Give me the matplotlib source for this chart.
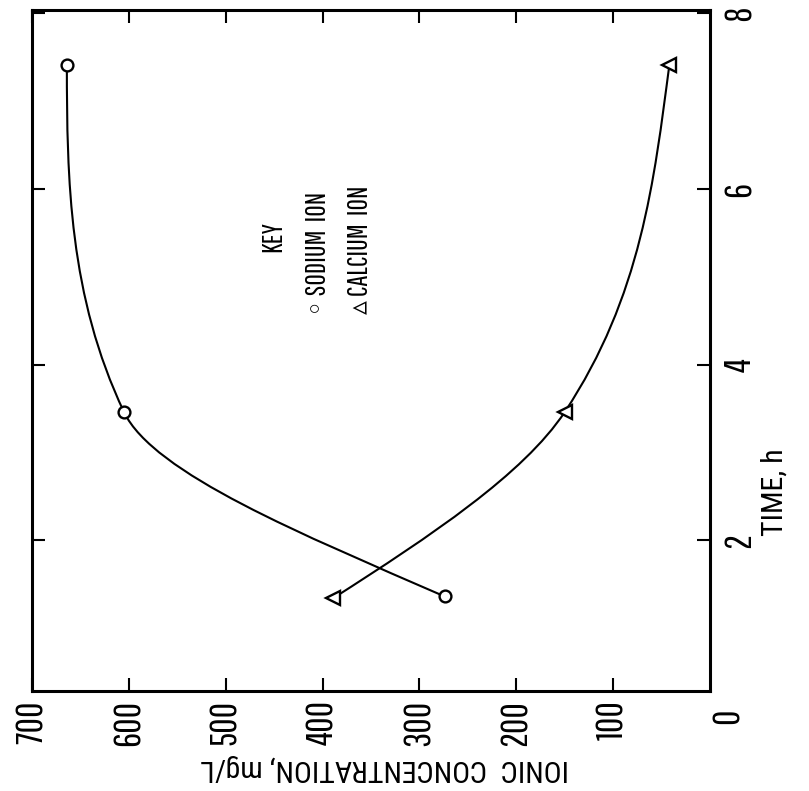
import matplotlib
matplotlib.use('Agg')
import matplotlib.pyplot as plt
from matplotlib.path import Path
from matplotlib.patches import PathPatch

# ---- data (original chart: time on x, concentration on y; drawn rotated) ----
time_ticks = [2, 4, 6, 8]
conc_ticks = [700, 600, 500, 400, 300, 200, 100]
sodium_time = [1.36, 3.46, 7.41]
sodium_conc = [274, 605, 664]
calcium_time = [1.34, 3.46, 7.41]
calcium_conc = [389, 150, 42]
# curve shape: dConc/dTime of the drawn smooth curve at each point
sodium_slope = [208, 43, 0]
calcium_slope = [-142, -60, -12]

FONT = ['Pathway Gothic One', 'DejaVu Sans']
LABEL_FONT = ['Roboto Condensed', 'DejaVu Sans']
plt.rcParams['font.family'] = FONT

W, H = 809, 791
fig = plt.figure(figsize=(W / 100, H / 100), dpi=100)
L, R, T, B = 32, 710, 10, 691
ax = fig.add_axes([L / W, 1 - B / H, (R - L) / W, (B - T) / H])
ax.set_xlim(700, 0)
ax.set_ylim(0.283, 8.039)


def hermite_path(ts, cs, ms):
    verts = [(cs[0], ts[0])]
    codes = [Path.MOVETO]
    for i in range(len(ts) - 1):
        h = ts[i + 1] - ts[i]
        verts += [(cs[i] + ms[i] * h / 3, ts[i] + h / 3),
                  (cs[i + 1] - ms[i + 1] * h / 3, ts[i + 1] - h / 3),
                  (cs[i + 1], ts[i + 1])]
        codes += [Path.CURVE4] * 3
    return Path(verts, codes)


for ts, cs, ms in [(sodium_time, sodium_conc, sodium_slope),
                   (calcium_time, calcium_conc, calcium_slope)]:
    ax.add_patch(PathPatch(hermite_path(ts, cs, ms), fill=False,
                           edgecolor='black', linewidth=1.5, zorder=2))

ax.plot(sodium_conc, sodium_time, linestyle='none', marker='o', ms=8.5,
        mfc='white', mec='black', mew=1.7, zorder=3)
ax.plot(calcium_conc, calcium_time, linestyle='none', marker='<', ms=9.5,
        mfc='white', mec='black', mew=1.7, zorder=3)

for s in ax.spines.values():
    s.set_linewidth(2.2)

ax.set_xticks(conc_ticks)
ax.set_xticklabels([str(v) for v in conc_ticks], rotation=90, fontsize=27)
ax.tick_params(axis='x', direction='in', length=9.5, width=1.5,
               top=True, bottom=True, pad=6.5)

ax.yaxis.tick_right()
ax.set_yticks(time_ticks)
ax.set_yticklabels([str(v) for v in time_ticks], rotation=90, fontsize=27)
for lbl in ax.get_yticklabels():
    lbl.set_va('center')
    lbl.set_ha('left')
ax.tick_params(axis='y', direction='in', length=9.5, width=1.5,
               left=True, right=True, labelleft=False, labelright=True, pad=9)

ax.annotate('0', xy=(0, 0), xycoords='data', xytext=(18, 0),
            textcoords='offset pixels', rotation=90, ha='center', va='center',
            fontsize=27, annotation_clip=False)

fig.text(385 / W, 1 - 768 / H, 'IONIC  CONCENTRATION, mg/L', rotation=180,
         ha='center', va='center', fontsize=21.5, family=LABEL_FONT)
fig.text(775 / W, 1 - 492 / H, 'TIME, h', rotation=90,
         ha='center', va='center', fontsize=21.5, family=LABEL_FONT)

fig.text(273 / W, 1 - 252 / H, 'KEY', rotation=90, ha='center', va='bottom',
         fontsize=20)
fig.text(318 / W, 1 - 316 / H, '\u25e6 SODIUM  ION', rotation=90, ha='center',
         va='bottom', fontsize=20)
fig.text(360 / W, 1 - 314 / H, '\u25b5 CALCIUM  ION', rotation=90, ha='center',
         va='bottom', fontsize=20)

fig.savefig('out.png', dpi=100)
